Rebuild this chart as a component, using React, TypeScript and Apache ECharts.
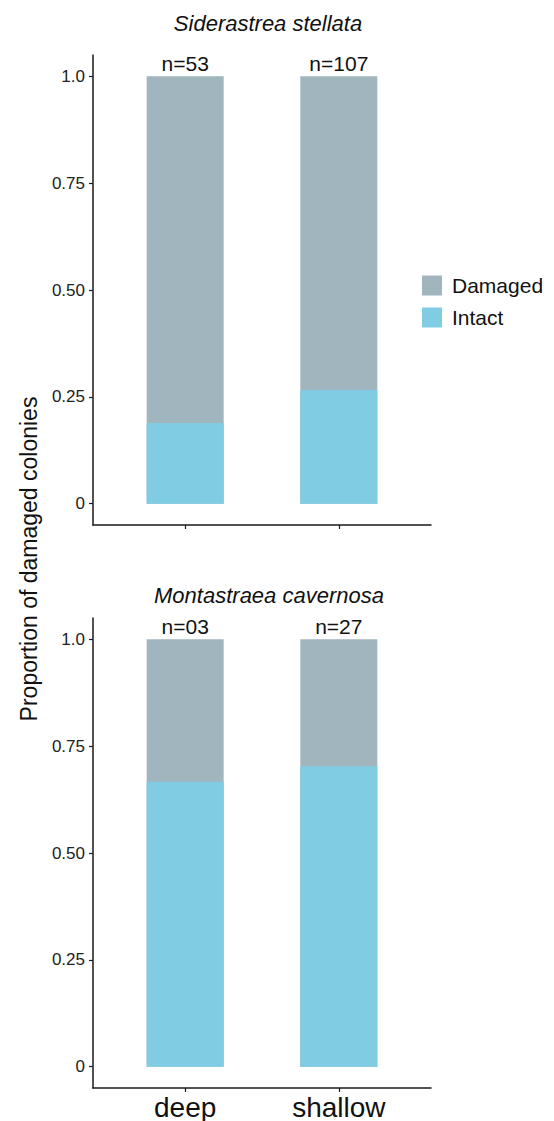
import React, { useEffect, useRef } from "react";
import * as echarts from "echarts";

const categories = ["deep", "shallow"];
const panelTitles = ["Siderastrea stellata", "Montastraea cavernosa"];
const nLabelsTop = ["n=53", "n=107"];
const nLabelsBottom = ["n=03", "n=27"];
const intactTop = [0.189, 0.266];
const damagedTop = [0.811, 0.734];
const intactBottom = [0.667, 0.703];
const damagedBottom = [0.333, 0.297];
const yTicks = [0, 0.25, 0.5, 0.75, 1];
const yTickLabels = ["0", "0.25", "0.50", "0.75", "1.0"];

const FONT = "'Liberation Sans', Arial, Helvetica, sans-serif";
const C_DAMAGED = "#A1B5BE";
const C_INTACT = "#7FCCE3";
const AXIS_COLOR = "#1a1a1a";

export default function App() {
  const ref = useRef<HTMLDivElement>(null);
  useEffect(() => {
    if (!ref.current) return;
    const chart = echarts.init(ref.current, null, { renderer: "svg" });

    const xAxisFor = (gridIndex: number, showLabels: boolean) => ({
      type: "value",
      gridIndex,
      min: 0.4,
      max: 2.6,
      splitLine: { show: false },
      axisLine: {
        show: true,
        onZero: false,
        lineStyle: { color: AXIS_COLOR, width: 1.5 },
      },
      axisTick: {
        show: true,
        customValues: [1, 2],
        length: 4,
        lineStyle: { color: AXIS_COLOR, width: 1.2 },
      },
      axisLabel: {
        show: showLabels,
        customValues: [1, 2],
        formatter: (v: number) => categories[Math.round(v) - 1] ?? "",
        fontSize: 28,
        fontFamily: FONT,
        color: "#111",
        margin: 5,
      },
    });

    const yAxisFor = (gridIndex: number) => ({
      type: "value",
      gridIndex,
      min: -0.05,
      max: 1.05,
      splitLine: { show: false },
      axisLine: {
        show: true,
        onZero: false,
        lineStyle: { color: AXIS_COLOR, width: 1.5 },
      },
      axisTick: {
        show: true,
        customValues: yTicks,
        length: 4,
        lineStyle: { color: AXIS_COLOR, width: 1.2 },
      },
      axisLabel: {
        customValues: yTicks,
        formatter: (v: number) => {
          const i = yTicks.findIndex((t) => Math.abs(t - v) < 1e-6);
          return i >= 0 ? yTickLabels[i] : "";
        },
        fontSize: 17,
        fontFamily: FONT,
        color: "#222",
        margin: 8,
      },
    });

    // Stacked proportions: the damaged segment sits on top of the intact one,
    // so its bar reaches intact + damaged; the intact bar is drawn over it.
    const barSeries = (
      gridIndex: number,
      intact: number[],
      damaged: number[],
      nLabels: string[]
    ) => [
      {
        name: "Damaged",
        type: "bar",
        xAxisIndex: gridIndex,
        yAxisIndex: gridIndex,
        barWidth: 77,
        barGap: "-100%",
        z: 2,
        itemStyle: { color: C_DAMAGED },
        label: {
          show: true,
          position: "top",
          distance: 2,
          fontSize: 21,
          fontFamily: FONT,
          color: "#111",
          formatter: (p: any) => nLabels[p.dataIndex],
        },
        data: damaged.map((d, i) => [i + 1, intact[i] + d]),
      },
      {
        name: "Intact",
        type: "bar",
        xAxisIndex: gridIndex,
        yAxisIndex: gridIndex,
        barWidth: 77,
        barGap: "-100%",
        z: 3,
        itemStyle: { color: C_INTACT },
        data: intact.map((v, i) => [i + 1, v]),
      },
    ];

    chart.setOption({
      animation: false,
      backgroundColor: "#ffffff",
      grid: [
        { left: 93, top: 55, width: 338, height: 470, containLabel: false },
        { left: 93, top: 618, width: 338, height: 471, containLabel: false },
      ],
      xAxis: [xAxisFor(0, false), xAxisFor(1, true)],
      yAxis: [yAxisFor(0), yAxisFor(1)],
      legend: {
        data: ["Damaged", "Intact"],
        orient: "vertical",
        left: 422,
        top: 275,
        padding: 0,
        itemWidth: 20,
        itemHeight: 20,
        itemGap: 11,
        icon: "rect",
        textStyle: {
          fontSize: 21,
          fontFamily: FONT,
          color: "#111",
          padding: [0, 0, 0, 5],
        },
        selectedMode: false,
      },
      series: [
        ...barSeries(0, intactTop, damagedTop, nLabelsTop),
        ...barSeries(1, intactBottom, damagedBottom, nLabelsBottom),
      ],
      graphic: [
        {
          type: "text",
          x: 268,
          y: 23,
          style: {
            text: panelTitles[0],
            fontSize: 22,
            fontStyle: "italic",
            fontFamily: FONT,
            fill: "#111",
            textAlign: "center",
            textVerticalAlign: "middle",
          },
        },
        {
          type: "text",
          x: 269,
          y: 595,
          style: {
            text: panelTitles[1],
            fontSize: 22,
            fontStyle: "italic",
            fontFamily: FONT,
            fill: "#111",
            textAlign: "center",
            textVerticalAlign: "middle",
          },
        },
        {
          type: "text",
          x: 29,
          y: 559,
          rotation: Math.PI / 2,
          style: {
            text: "Proportion of damaged colonies",
            fontSize: 23,
            fontFamily: FONT,
            fill: "#111",
            textAlign: "center",
            textVerticalAlign: "middle",
          },
        },
      ],
    });
    return () => chart.dispose();
  }, []);

  return (
    <div
      ref={ref}
      style={{ position: "absolute", left: 0, top: 0, width: 554, height: 1121 }}
    />
  );
}
